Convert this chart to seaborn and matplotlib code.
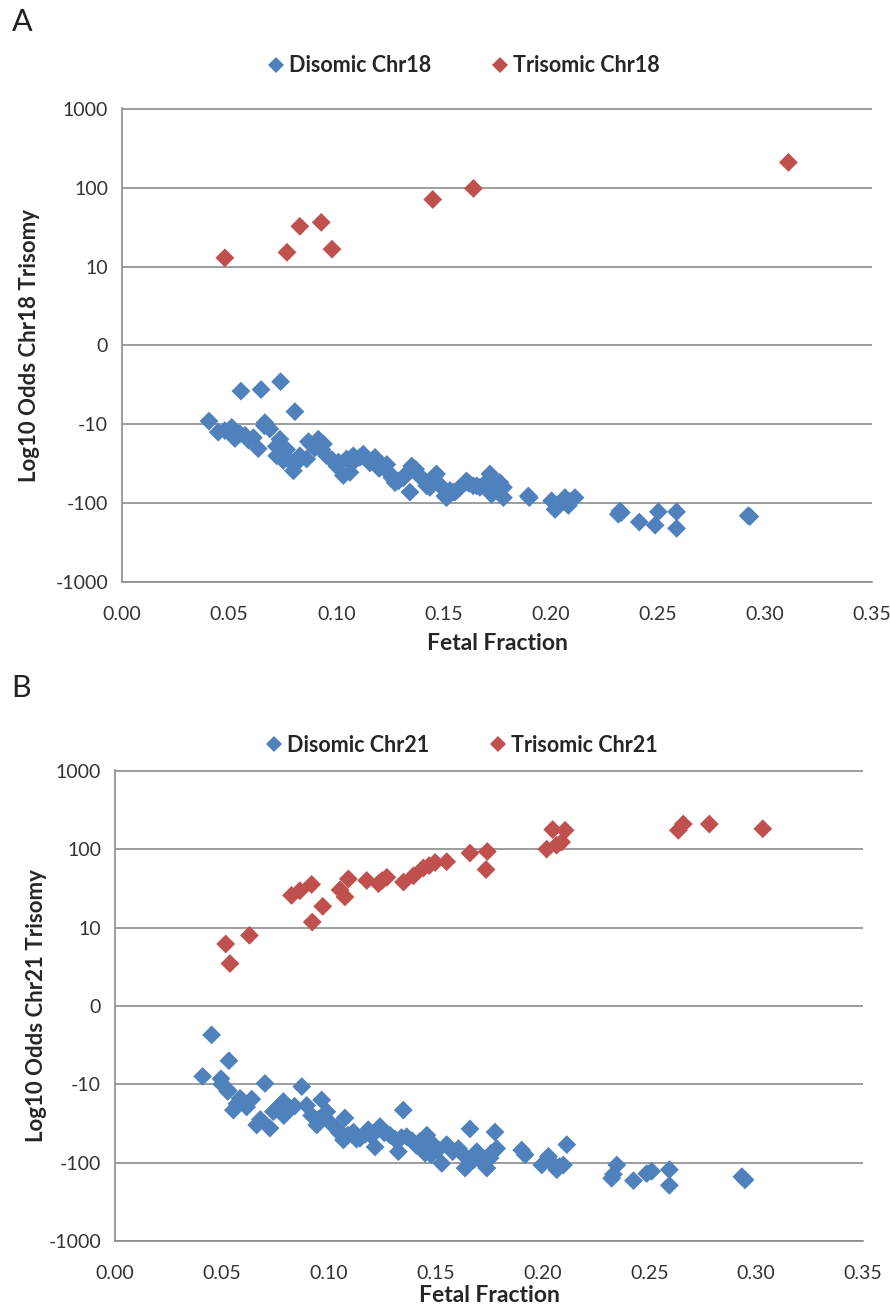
"""
Log10 odds of trisomy vs fetal fraction, Chr18 (A) and Chr21 (B)
"""

import pandas as pd
import matplotlib
matplotlib.use('Agg')
import matplotlib.pyplot as plt
import seaborn as sns

sns.set_style('white')
plt.rcParams['font.family'] = ['Lato', 'DejaVu Sans']

BLUE = '#4F81BD'
RED = '#C0504D'
GRID = '#8C8C8C'

# y values are given in axis units: 1 unit per step of the odd tick ladder
# (-1000, -100, -10, 0, 10, 100, 1000)
y_ticks = [-3, -2, -1, 0, 1, 2, 3]
y_tick_labels = ['-1000', '-100', '-10', '0', '10', '100', '1000']
x_ticks = [0.00, 0.05, 0.10, 0.15, 0.20, 0.25, 0.30, 0.35]

# ---- Panel A: Chr18 ----
chr18_di_ff = [0.0406, 0.0449, 0.0480, 0.0512, 0.0527, 0.0550, 0.0555, 0.0574, 0.0590,
               0.0613, 0.0636, 0.0649, 0.0665, 0.0667, 0.0690, 0.0720, 0.0722, 0.0737,
               0.0740, 0.0753, 0.0768, 0.0780, 0.0800, 0.0807, 0.0815, 0.0830, 0.0862,
               0.0870, 0.0880, 0.0900, 0.0916, 0.0932, 0.0940, 0.0955, 0.0980, 0.1002,
               0.1010, 0.1033, 0.1048, 0.1064, 0.1079, 0.1090, 0.1110, 0.1126, 0.1140,
               0.1157, 0.1170, 0.1181, 0.1200, 0.1212, 0.1236, 0.1251, 0.1260, 0.1274,
               0.1290, 0.1313, 0.1330, 0.1344, 0.1352, 0.1370, 0.1390, 0.1406, 0.1422,
               0.1437, 0.1440, 0.1461, 0.1468, 0.1480, 0.1500, 0.1507, 0.1515, 0.1530,
               0.1546, 0.1554, 0.1570, 0.1601, 0.1608, 0.1620, 0.1639, 0.1655, 0.1670,
               0.1690, 0.1717, 0.1725, 0.1741, 0.1750, 0.1764, 0.1780, 0.1780, 0.1896,
               0.1901, 0.2005, 0.2021, 0.2040, 0.2067, 0.2083, 0.2090, 0.2114, 0.2316,
               0.2324, 0.2330, 0.2414, 0.2488, 0.2503, 0.2588, 0.2588, 0.2922, 0.2930]
chr18_di_odds = [-0.96, -1.10, -1.08, -1.04, -1.18, -1.12, -0.58, -1.14, -1.20,
                 -1.17, -1.31, -0.56, -1.02, -0.98, -1.06, -1.28, -1.40, -1.19,
                 -0.46, -1.46, -1.32, -1.45, -1.59, -0.84, -1.49, -1.40, -1.44,
                 -1.22, -1.25, -1.30, -1.19, -1.32, -1.25, -1.40, -1.45, -1.53,
                 -1.48, -1.65, -1.44, -1.61, -1.40, -1.45, -1.42, -1.38, -1.44,
                 -1.49, -1.47, -1.42, -1.56, -1.53, -1.51, -1.63, -1.68, -1.74,
                 -1.72, -1.68, -1.62, -1.86, -1.53, -1.57, -1.66, -1.70, -1.78,
                 -1.80, -1.72, -1.65, -1.63, -1.76, -1.82, -1.91, -1.93, -1.84,
                 -1.86, -1.86, -1.82, -1.74, -1.72, -1.75, -1.78, -1.78, -1.80,
                 -1.76, -1.63, -1.89, -1.78, -1.83, -1.74, -1.93, -1.80, -1.91,
                 -1.93, -1.97, -2.08, -2.02, -1.93, -2.03, -1.98, -1.93, -2.14,
                 -2.10, -2.12, -2.24, -2.28, -2.11, -2.11, -2.32, -2.16, -2.17]
chr18_tri_ff = [0.048, 0.077, 0.083, 0.093, 0.098, 0.145, 0.164, 0.311]
chr18_tri_odds = [1.11, 1.18, 1.51, 1.56, 1.22, 1.85, 1.99, 2.32]

# ---- Panel B: Chr21 ----
chr21_di_ff = [0.0410, 0.0452, 0.0496, 0.0500, 0.0527, 0.0530, 0.0533, 0.0554, 0.0570,
               0.0585, 0.0600, 0.0616, 0.0640, 0.0663, 0.0680, 0.0702, 0.0725, 0.0741,
               0.0760, 0.0788, 0.0790, 0.0819, 0.0840, 0.0874, 0.0897, 0.0920, 0.0944,
               0.0950, 0.0967, 0.0991, 0.1010, 0.1037, 0.1050, 0.1069, 0.1076, 0.1090,
               0.1116, 0.1130, 0.1146, 0.1170, 0.1185, 0.1200, 0.1217, 0.1240, 0.1260,
               0.1287, 0.1310, 0.1326, 0.1340, 0.1349, 0.1365, 0.1390, 0.1410, 0.1427,
               0.1440, 0.1451, 0.1459, 0.1480, 0.1490, 0.1510, 0.1529, 0.1552, 0.1580,
               0.1607, 0.1630, 0.1638, 0.1661, 0.1680, 0.1693, 0.1720, 0.1740, 0.1755,
               0.1760, 0.1778, 0.1786, 0.1903, 0.1919, 0.1997, 0.2028, 0.2035, 0.2067,
               0.2080, 0.2098, 0.2114, 0.2324, 0.2332, 0.2348, 0.2426, 0.2488, 0.2511,
               0.2594, 0.2594, 0.2933, 0.2948]
chr21_di_odds = [-0.90, -0.37, -0.93, -1.00, -1.09, -1.08, -0.70, -1.33, -1.25,
                 -1.18, -1.22, -1.29, -1.19, -1.52, -1.45, -0.99, -1.56, -1.35,
                 -1.30, -1.22, -1.40, -1.31, -1.28, -1.03, -1.27, -1.40, -1.52,
                 -1.45, -1.20, -1.35, -1.50, -1.56, -1.62, -1.71, -1.43, -1.65,
                 -1.61, -1.70, -1.69, -1.64, -1.58, -1.66, -1.80, -1.54, -1.62,
                 -1.65, -1.70, -1.86, -1.68, -1.33, -1.67, -1.72, -1.78, -1.73,
                 -1.80, -1.88, -1.65, -1.90, -1.77, -1.84, -2.01, -1.77, -1.86,
                 -1.82, -1.90, -2.07, -1.57, -1.96, -1.86, -2.00, -2.07, -1.94,
                 -1.88, -1.61, -1.82, -1.84, -1.90, -2.03, -1.92, -1.98, -2.09,
                 -2.05, -2.03, -1.77, -2.20, -2.15, -2.03, -2.23, -2.14, -2.11,
                 -2.09, -2.29, -2.18, -2.22]
chr21_tri_ff = [0.0518, 0.0538, 0.0629, 0.0826, 0.0865, 0.0920, 0.0923, 0.0972, 0.1053,
                0.1076, 0.1092, 0.1178, 0.1233, 0.1250, 0.1272, 0.1350, 0.1397, 0.1443,
                0.1470, 0.1498, 0.1552, 0.1661, 0.1736, 0.1742, 0.2020, 0.2048, 0.2066,
                0.2090, 0.2106, 0.2636, 0.2659, 0.2781, 0.3031]
chr21_tri_odds = [0.79, 0.54, 0.90, 1.41, 1.47, 1.55, 1.07, 1.27, 1.48,
                  1.39, 1.62, 1.60, 1.56, 1.60, 1.64, 1.58, 1.66, 1.76,
                  1.79, 1.83, 1.84, 1.95, 1.74, 1.97, 2.00, 2.25, 2.05,
                  2.09, 2.24, 2.24, 2.32, 2.32, 2.26]


def build_frame(di_ff, di_odds, tri_ff, tri_odds, chrom):
    """Long-form table for one panel"""
    di = pd.DataFrame({'ff': di_ff, 'odds': di_odds, 'group': f'Disomic {chrom}'})
    tri = pd.DataFrame({'ff': tri_ff, 'odds': tri_odds, 'group': f'Trisomic {chrom}'})
    return pd.concat([di, tri], ignore_index=True)


def draw_panel(fig, rect, df, chrom, letter, letter_y, legend_xy, ylabel_x, xlabel_y):
    ax = fig.add_axes(rect)
    palette = {f'Disomic {chrom}': BLUE, f'Trisomic {chrom}': RED}
    sns.scatterplot(data=df, x='ff', y='odds', hue='group', palette=palette,
                    marker='D', s=92, linewidth=0, alpha=1, ax=ax, zorder=3)

    ax.set_xlim(0, 0.35)
    ax.set_ylim(-3, 3.01)
    ax.set_xticks(x_ticks)
    ax.set_xticklabels([f'{t:.2f}' for t in x_ticks])
    ax.set_yticks(y_ticks)
    ax.set_yticklabels(y_tick_labels)

    ax.set_axisbelow(True)
    ax.grid(axis='y', color=GRID, linewidth=1.2)
    ax.grid(axis='x', visible=False)
    for side in ['top', 'right']:
        ax.spines[side].set_visible(False)
    for side in ['left', 'bottom']:
        ax.spines[side].set_color(GRID)
        ax.spines[side].set_linewidth(1.2)
    ax.tick_params(axis='both', which='major', direction='out', color=GRID,
                   width=1.2, labelsize=14, labelcolor='#333333')
    ax.tick_params(axis='x', length=6, pad=11)
    ax.tick_params(axis='y', length=6, pad=4)

    ax.set_xlabel('Fetal Fraction', fontsize=16.5, fontweight='bold')
    ax.set_ylabel(f'Log10 Odds {chrom} Trisomy', fontsize=16, fontweight='bold')
    ax.xaxis.set_label_coords(0.5, xlabel_y)
    ax.yaxis.set_label_coords(ylabel_x, 0.5)

    handles, labels = ax.get_legend_handles_labels()
    ax.legend(handles, labels, loc='center', bbox_to_anchor=legend_xy,
              bbox_transform=fig.transFigure, ncol=2, frameon=False,
              prop={'weight': 'bold', 'size': 15.5},
              handlelength=0.6, handletextpad=0.3, columnspacing=2.9,
              markerscale=0.85)

    fig.text(0.013, letter_y, letter, fontsize=22, va='center', ha='left',
             color='#222222')
    return ax


def main():
    fig = plt.figure(figsize=(8.9, 13.05), dpi=100)

    df18 = build_frame(chr18_di_ff, chr18_di_odds, chr18_tri_ff, chr18_tri_odds, 'Chr18')
    df21 = build_frame(chr21_di_ff, chr21_di_odds, chr21_tri_ff, chr21_tri_odds, 'Chr21')

    draw_panel(fig, [122 / 890, 1 - 582 / 1305, 750 / 890, 474 / 1305], df18,
               'Chr18', 'A', 1 - 22 / 1305, (465 / 890, 1 - 66 / 1305),
               -0.109, -0.108)
    draw_panel(fig, [115 / 890, 1 - 1241 / 1305, 748 / 890, 471 / 1305], df21,
               'Chr21', 'B', 1 - 688 / 1305, (463 / 890, 1 - 745 / 1305),
               -0.091, -0.094)

    fig.savefig('out.png', dpi=100)
    plt.close(fig)


if __name__ == '__main__':
    main()
